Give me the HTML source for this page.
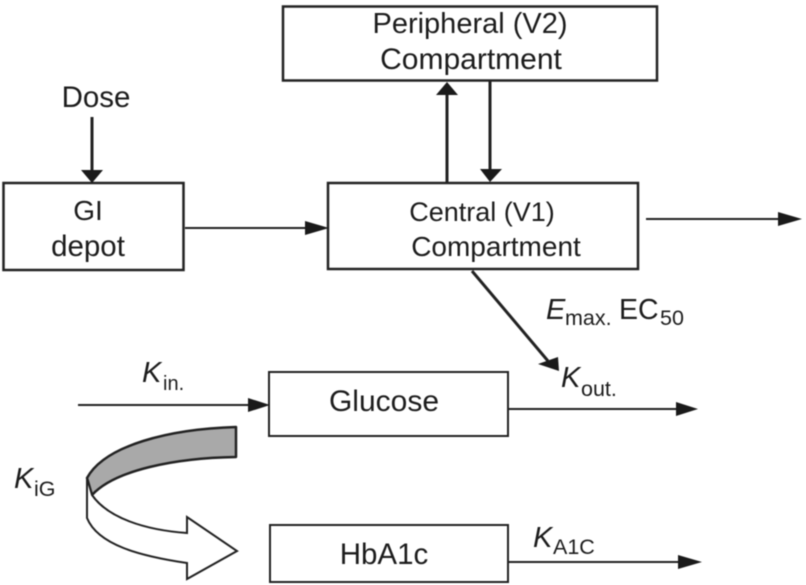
<!DOCTYPE html>
<html><head><meta charset="utf-8"><style>
html,body{margin:0;padding:0;background:#fff}
svg{display:block}
text{font-family:"Liberation Sans",sans-serif;font-size:28px;fill:#1c1c1c}
.i{font-style:italic;font-size:29px}
.s{font-size:21.5px}
</style></head><body>
<svg width="806" height="585" viewBox="0 0 806 585" xmlns="http://www.w3.org/2000/svg">
<g style="filter:blur(0.4px)">
<g fill="none" stroke="#222">
<rect x="283" y="6.5" width="374" height="74" stroke-width="2.5"/>
<rect x="3.5" y="183" width="180" height="87" stroke-width="2.5"/>
<rect x="328" y="183" width="310" height="86" stroke-width="2.5"/>
<rect x="269" y="372" width="239" height="64" stroke-width="2"/>
<rect x="270" y="525" width="238" height="57" stroke-width="2"/>
<g stroke-width="3">
<line x1="92" y1="117" x2="92" y2="172"/>
<line x1="447" y1="182" x2="447" y2="95"/>
<line x1="490" y1="81" x2="490" y2="170"/>
<line x1="472" y1="271" x2="548" y2="361"/>
</g>
<g stroke-width="2">
<line x1="185" y1="228" x2="310" y2="228"/>
<line x1="646" y1="219" x2="780" y2="219"/>
<line x1="78" y1="405" x2="250" y2="405"/>
<line x1="508" y1="409" x2="678" y2="409"/>
<line x1="508" y1="562" x2="680" y2="562"/>
</g>
</g>
<g fill="#1a1a1a">
<polygon points="81,170 103,170 92,183"/>
<polygon points="436,95 458,95 447,82"/>
<polygon points="480,169 502,169 490,182"/>
<polygon points="305,221 305,235 329,228"/>
<polygon points="778,212 778,226 802,219"/>
<polygon points="248,398 248,412 270,405"/>
<polygon points="676,402 676,416 698,409"/>
<polygon points="678,555 678,569 702,562"/>
<polygon points="538,364 558,357 559,371"/>
</g>
<path d="M236,427 C170,429 105,445 87,478 L92,495 C115,470 175,458 236,457 Z" fill="#a9a9a9" stroke="#222" stroke-width="2.5" stroke-linejoin="round"/>
<path d="M87,478 L92,495 C108,518 145,530 187,533 L187,517 L237,551 L187,579 L187,563 C140,556 98,545 87,518 Z" fill="#fff" stroke="#222" stroke-width="2" stroke-linejoin="miter"/>
<text x="470" y="33" text-anchor="middle" style="font-size:29px">Peripheral (V2)</text>
<text x="471" y="69" text-anchor="middle" style="font-size:30px">Compartment</text>
<text x="96" y="107" text-anchor="middle" style="font-size:29.5px">Dose</text>
<text x="88" y="220" text-anchor="middle">GI</text>
<text x="88" y="256" text-anchor="middle" style="font-size:29.5px">depot</text>
<text x="482" y="221" text-anchor="middle" style="font-size:27px">Central (V1)</text>
<text x="496" y="256" text-anchor="middle">Compartment</text>
<text x="384" y="411" text-anchor="middle" style="font-size:30px">Glucose</text>
<text x="384" y="564" text-anchor="middle" style="font-size:29.5px">HbA1c</text>
<text x="546" y="319" class="i">E</text><text x="565" y="325" class="s">max.</text>
<text x="619" y="319" style="font-size:28.5px">EC</text><text x="660" y="325" class="s">50</text>
<text x="142" y="382" class="i">K</text><text x="163" y="390" class="s" style="font-size:20px">in.</text>
<text x="561" y="387" class="i">K</text><text x="581" y="396" class="s">out.</text>
<text x="14" y="488" class="i">K</text><text x="34" y="496" class="s">iG</text>
<text x="533" y="547" class="i">K</text><text x="553" y="554" class="s">A1C</text>
</g>
</svg>
</body></html>
